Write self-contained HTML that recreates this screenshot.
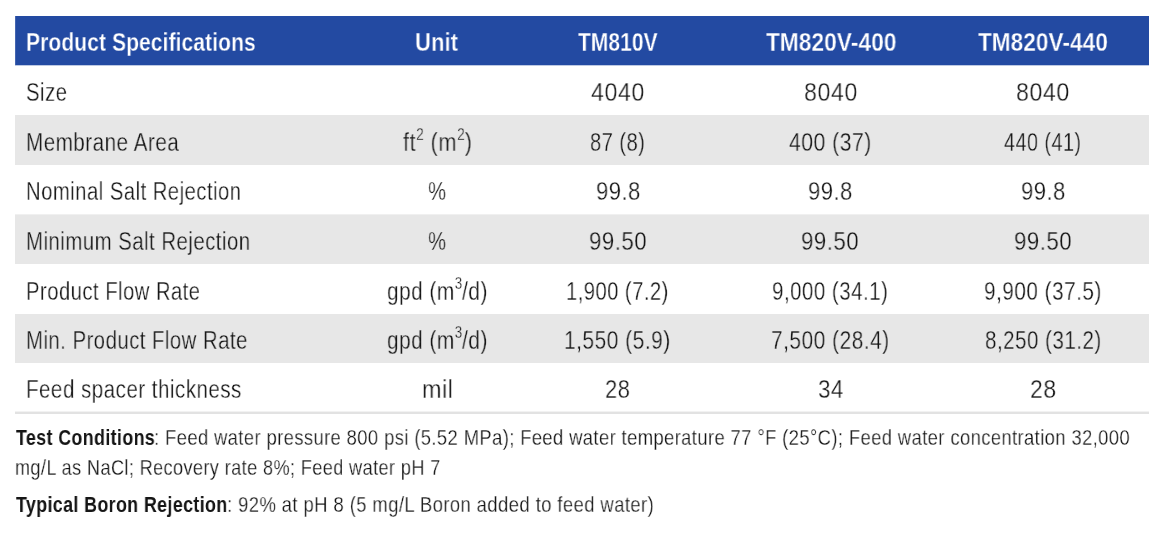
<!DOCTYPE html>
<html lang="en"><head><meta charset="utf-8"><title>Product Specifications</title>
<style>
html,body{margin:0;padding:0;background:#fff}
body{width:1165px;height:545px;position:relative;overflow:hidden}
.bg{position:absolute;left:15px;width:1134px}
.hdr{top:16px;height:49px;width:1133px;background:#234aa2;border-left:1px solid #4465b0;box-shadow:0 1px 0 #bdc9e3}
.g{background:#e7e7e7}
.bb{top:411px;height:3px;background:linear-gradient(#f2f2f2 0 1px,#e2e2e2 1px)}
.t{position:absolute;line-height:40px;white-space:nowrap;transform-origin:0 0;will-change:transform}
.h{font-family:'Liberation Sans',Arial,sans-serif;font-weight:bold;font-size:25px;letter-spacing:0.1px;color:#fff;-webkit-text-stroke:0.3px #234aa2}
.d{font-family:'Liberation Sans',Arial,sans-serif;font-size:25px;letter-spacing:0.6px;color:#151515;-webkit-text-stroke:0.3px #fff}
.d.og{-webkit-text-stroke-color:#e7e7e7}
.n{font-family:'Liberation Sans',Arial,sans-serif;font-size:22px;letter-spacing:0.5px;color:#151515;-webkit-text-stroke:0.26px #fff}
.n b{-webkit-text-stroke-width:0}
sup{font-size:16px;vertical-align:11px;line-height:0;letter-spacing:0}
</style></head><body>
<div class="bg hdr"></div>
<div class="bg g" style="top:115px;height:50px"></div>
<div class="bg g" style="top:214px;height:50px;background:linear-gradient(#f0f0f0 0 1px,#e7e7e7 1px)"></div>
<div class="bg g" style="top:314px;height:49px"></div>
<div class="bg bb"></div>
<div class="t h" style="left:25.92px;top:22.00px;transform:scaleX(0.8415)">Product Specifications</div>
<div class="t h" style="left:414.94px;top:22.00px;transform:scaleX(0.8804)">Unit</div>
<div class="t h" style="left:578.20px;top:22.00px;transform:scaleX(0.8383)">TM810V</div>
<div class="t h" style="left:765.50px;top:22.00px;transform:scaleX(0.9049)">TM820V-400</div>
<div class="t h" style="left:978.30px;top:22.00px;transform:scaleX(0.9007)">TM820V-440</div>
<div class="t d" style="left:25.67px;top:72.00px;transform:scaleX(0.8128)">Size</div>
<div class="t d" style="left:591.12px;top:72.00px;transform:scaleX(0.9291)">4040</div>
<div class="t d" style="left:803.72px;top:72.00px;transform:scaleX(0.9291)">8040</div>
<div class="t d" style="left:1016.37px;top:72.00px;transform:scaleX(0.9273)">8040</div>
<div class="t d og" style="left:26.15px;top:121.60px;transform:scaleX(0.8251)">Membrane Area</div>
<div class="t d og" style="left:402.98px;top:121.60px;transform:scaleX(0.8724)">ft<sup>2</sup> (m<sup>2</sup>)</div>
<div class="t d og" style="left:590.30px;top:121.60px;transform:scaleX(0.8030)">87 (8)</div>
<div class="t d og" style="left:789.20px;top:121.60px;transform:scaleX(0.8453)">400 (37)</div>
<div class="t d og" style="left:1004.41px;top:121.60px;transform:scaleX(0.7916)">440 (41)</div>
<div class="t d" style="left:26.18px;top:171.00px;transform:scaleX(0.8099)">Nominal Salt Rejection</div>
<div class="t d" style="left:428.04px;top:171.00px;transform:scaleX(0.8150)">%</div>
<div class="t d" style="left:595.62px;top:171.00px;transform:scaleX(0.8792)">99.8</div>
<div class="t d" style="left:808.22px;top:171.00px;transform:scaleX(0.8792)">99.8</div>
<div class="t d" style="left:1020.82px;top:171.00px;transform:scaleX(0.8792)">99.8</div>
<div class="t d og" style="left:26.17px;top:220.50px;transform:scaleX(0.8144)">Minimum Salt Rejection</div>
<div class="t d og" style="left:428.04px;top:220.50px;transform:scaleX(0.8150)">%</div>
<div class="t d og" style="left:588.76px;top:220.50px;transform:scaleX(0.8873)">99.50</div>
<div class="t d og" style="left:801.36px;top:220.50px;transform:scaleX(0.8873)">99.50</div>
<div class="t d og" style="left:1013.96px;top:220.50px;transform:scaleX(0.8873)">99.50</div>
<div class="t d" style="left:26.18px;top:270.50px;transform:scaleX(0.8085)">Product Flow Rate</div>
<div class="t d" style="left:387.12px;top:270.50px;transform:scaleX(0.8314)">gpd (m<sup>3</sup>/d)</div>
<div class="t d" style="left:566.39px;top:270.50px;transform:scaleX(0.8065)">1,900 (7.2)</div>
<div class="t d" style="left:772.38px;top:270.50px;transform:scaleX(0.8201)">9,000 (34.1)</div>
<div class="t d" style="left:984.27px;top:270.50px;transform:scaleX(0.8302)">9,900 (37.5)</div>
<div class="t d og" style="left:26.17px;top:320.00px;transform:scaleX(0.8126)">Min. Product Flow Rate</div>
<div class="t d og" style="left:387.12px;top:320.00px;transform:scaleX(0.8314)">gpd (m<sup>3</sup>/d)</div>
<div class="t d og" style="left:564.43px;top:320.00px;transform:scaleX(0.8374)">1,550 (5.9)</div>
<div class="t d og" style="left:770.83px;top:320.00px;transform:scaleX(0.8362)">7,500 (28.4)</div>
<div class="t d og" style="left:984.83px;top:320.00px;transform:scaleX(0.8223)">8,250 (31.2)</div>
<div class="t d" style="left:26.16px;top:369.00px;transform:scaleX(0.8216)">Feed spacer thickness</div>
<div class="t d" style="left:421.64px;top:369.00px;transform:scaleX(0.9310)">mil</div>
<div class="t d" style="left:605.38px;top:369.00px;transform:scaleX(0.8731)">28</div>
<div class="t d" style="left:817.71px;top:369.00px;transform:scaleX(0.8923)">34</div>
<div class="t d" style="left:1029.93px;top:369.00px;transform:scaleX(0.9192)">28</div>
<div class="t n" style="left:16.20px;top:418.10px;transform:scaleX(0.8088)"><b>Test Conditions</b></div>
<div class="t n" style="left:154.03px;top:418.10px;transform:scaleX(0.8337)">: Feed water pressure 800 psi (5.52 MPa); Feed water temperature 77 °F (25°C); Feed water concentration 32,000</div>
<div class="t n" style="left:14.96px;top:447.80px;transform:scaleX(0.8218)">mg/L as NaCl; Recovery rate 8%; Feed water pH 7</div>
<div class="t n" style="left:16.20px;top:485.20px;transform:scaleX(0.8085)"><b>Typical Boron Rejection</b></div>
<div class="t n" style="left:227.42px;top:485.20px;transform:scaleX(0.8377)">: 92% at pH 8 (5 mg/L Boron added to feed water)</div>
</body></html>
